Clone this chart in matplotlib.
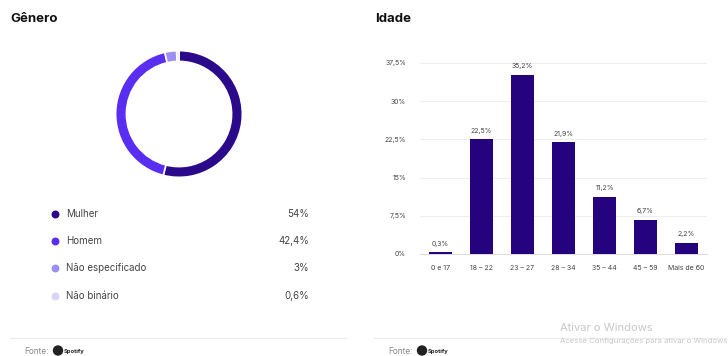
import matplotlib
matplotlib.use("Agg")
import matplotlib.pyplot as plt
from matplotlib.patches import Circle

plt.rcParams['font.family'] = ['Inter', 'DejaVu Sans']

# Gênero
genero = ['Mulher', 'Homem', 'Não especificado', 'Não binário']
genero_pct = [54, 42.4, 3, 0.6]
genero_txt = ['54%', '42,4%', '3%', '0,6%']
genero_cores = ['#2a0a8a', '#5a2ef2', '#9c8ff2', '#d9d5f5']

# Idade
faixas = ['0 e 17', '18 – 22', '23 – 27', '28 – 34', '35 – 44', '45 – 59', 'Mais de 60']
idade_pct = [0.3, 22.5, 35.2, 21.9, 11.2, 6.7, 2.2]
idade_txt = ['0,3%', '22,5%', '35,2%', '21,9%', '11,2%', '6,7%', '2,2%']
y_ticks = [0, 7.5, 15, 22.5, 30, 37.5]
y_ticklabels = ['0%', '7,5%', '15%', '22,5%', '30%', '37,5%']

W, H = 728, 356
fig = plt.figure(figsize=(W / 100, H / 100), dpi=100)
fig.patch.set_facecolor('white')

# overlay in pixel coordinates for titles, legend, footers
bg = fig.add_axes([0, 0, 1, 1])
bg.set_xlim(0, W)
bg.set_ylim(H, 0)
bg.axis('off')

bg.text(10, 19, 'Gênero', fontsize=9.5, fontweight='bold', color='#111111', va='center')
bg.text(375, 19, 'Idade', fontsize=9.5, fontweight='bold', color='#111111', va='center')

# donut
ax1 = fig.add_axes([115 / W, 1 - 178 / H, 128 / W, 128 / H])
ax1.pie(genero_pct, colors=genero_cores, startangle=90, counterclock=False,
        radius=1, wedgeprops=dict(width=0.17, edgecolor='white', linewidth=1.2))
ax1.set_xlim(-1.01, 1.01)
ax1.set_ylim(-1.01, 1.01)
ax1.set_aspect('equal')
ax1.axis('off')

# legend rows
for i, (nome, txt, cor) in enumerate(zip(genero, genero_txt, genero_cores)):
    y = 214 + i * 27.2
    bg.scatter(55, y, s=22, color=cor, zorder=3)
    bg.text(66, y, nome, fontsize=7, color='#444444', va='center')
    bg.text(309, y, txt, fontsize=7, color='#444444', va='center', ha='right')

# footers
for x0, x1, fx in [(10, 346, 24), (374, 726, 388)]:
    bg.plot([x0, x1], [338, 338], color='#ececec', lw=0.8)
    bg.text(fx, 351, 'Fonte:', fontsize=6, color='#888888', va='center')
    bg.add_patch(Circle((fx + 34, 350.5), 4.5, color='#222222'))
    bg.text(fx + 40, 351, 'Spotify', fontsize=4.2, fontweight='bold', color='#222222', va='center')

# Windows watermark
bg.text(560, 328, 'Ativar o Windows', fontsize=8, color='#c8c8c8', va='center')
bg.text(560, 341, 'Acesse Configurações para ativar o Windows', fontsize=5.6,
        color='#c8c8c8', va='center', clip_on=True)

# bars
ax2 = fig.add_axes([420 / W, 1 - 254 / H, 287 / W, 191 / H])
x = range(len(faixas))
ax2.bar(x, idade_pct, width=0.57, color='#25037f', zorder=3)
for xi, v, t in zip(x, idade_pct, idade_txt):
    ax2.text(xi, v + 1.1, t, ha='center', va='bottom', fontsize=5, color='#444444')
ax2.set_xlim(-0.5, len(faixas) - 0.5)
ax2.set_ylim(0, 37.5)
ax2.set_yticks(y_ticks)
ax2.set_yticklabels(y_ticklabels)
ax2.set_xticks(list(x))
ax2.set_xticklabels(faixas)
ax2.tick_params(axis='both', length=0, labelsize=5, colors='#444444')
ax2.tick_params(axis='y', pad=10)
ax2.tick_params(axis='x', pad=8)
ax2.grid(axis='y', color='#eeeeee', lw=0.8, zorder=0)
for s in ax2.spines.values():
    s.set_visible(False)
ax2.spines['bottom'].set_visible(True)
ax2.spines['bottom'].set_color('#dddddd')
ax2.spines['bottom'].set_linewidth(0.8)

fig.savefig('out.png', dpi=100, facecolor='white')
